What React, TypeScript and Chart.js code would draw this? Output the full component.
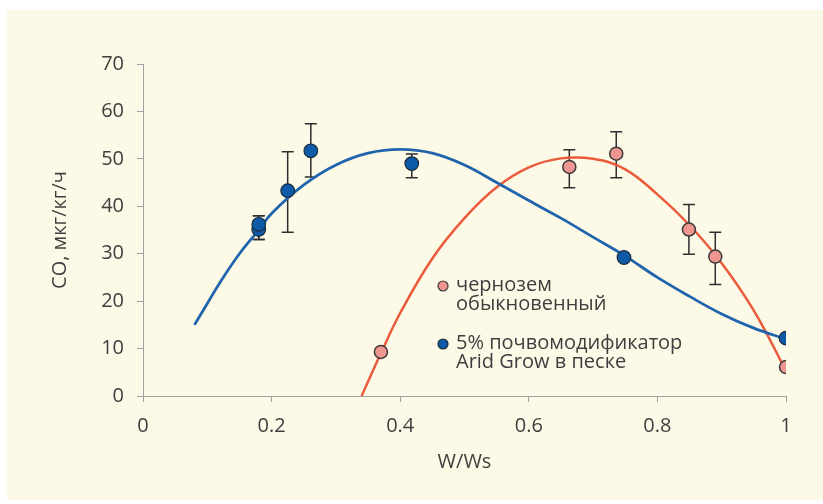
import React, { useEffect, useRef } from "react";
import { Chart, registerables } from "chart.js";

Chart.register(...registerables);

// Fitted curve for "5% почвомодификатор Arid Grow в песке"
const blueCurveX = [0.08, 0.1, 0.12, 0.15, 0.18, 0.2, 0.25, 0.3, 0.35, 0.4, 0.45, 0.5, 0.55, 0.6, 0.65, 0.7, 0.75, 0.8, 0.85, 0.9, 0.95, 1.0];
const blueCurveY = [15, 19.5, 24, 30, 35, 38.5, 44.5, 48.7, 51.2, 52, 51.2, 48.7, 45, 41.2, 37.5, 33.5, 29.5, 25, 21, 17.3, 14.3, 12];

// Fitted curve for "чернозем обыкновенный"
const redCurveX = [0.34, 0.37, 0.4, 0.45, 0.5, 0.55, 0.6, 0.65, 0.7, 0.75, 0.8, 0.85, 0.9, 0.95, 1.0];
const redCurveY = [0, 9, 17.5, 29, 37.5, 44, 48.2, 50.1, 50, 47.8, 42.5, 36, 28, 18, 5.3];

// Measured points with error bars
const bluePtsX = [0.18, 0.18, 0.225, 0.261, 0.418, 0.748, 1.0];
const bluePtsY = [35.1, 36.2, 43.3, 51.7, 49, 29.2, 12.2];
const bluePtsLo = [33, 33, 34.5, 46.2, 46, null, null];
const bluePtsHi = [38, 38, 51.5, 57.4, 51, null, null];

const redPtsX = [0.37, 0.663, 0.736, 0.849, 0.89, 1.0];
const redPtsY = [9.3, 48.3, 51.1, 35.1, 29.4, 6.1];
const redPtsLo = [null, 43.9, 46, 29.9, 23.5, null];
const redPtsHi = [null, 51.9, 55.7, 40.4, 34.5, null];

const xTicks = [0, 0.2, 0.4, 0.6, 0.8, 1];
const yTicks = [0, 10, 20, 30, 40, 50, 60, 70];

const legendLabels = [
  ["чернозем", "обыкновенный"],
  ["5% почвомодификатор", "Arid Grow в песке"],
];

const FONT = "'Open Sans', 'Noto Sans', sans-serif";
const TEXT = "#3e3e3e";
const AXIS = "#a0a0a0";
const BLUE_LINE = "#1f64ad";
const RED_LINE = "#ea5b3c";
const BLUE_PT = "#0d5aa6";
const RED_PT = "#f09690";

const errorBars = {
  id: "errorBars",
  beforeDatasetsDraw(chart: any) {
    const { ctx, scales } = chart;
    const xs = scales.x;
    const ys = scales.y;
    const groups = [
      [bluePtsX, bluePtsLo, bluePtsHi],
      [redPtsX, redPtsLo, redPtsHi],
    ];
    ctx.save();
    ctx.strokeStyle = "#2e2e2e";
    ctx.lineWidth = 1.5;
    for (const [xv, lo, hi] of groups as any) {
      for (let i = 0; i < xv.length; i++) {
        if (lo[i] == null || hi[i] == null) continue;
        const px = xs.getPixelForValue(xv[i]);
        const p1 = ys.getPixelForValue(lo[i]);
        const p2 = ys.getPixelForValue(hi[i]);
        ctx.beginPath();
        ctx.moveTo(px, p1);
        ctx.lineTo(px, p2);
        ctx.moveTo(px - 6, p1);
        ctx.lineTo(px + 6, p1);
        ctx.moveTo(px - 6, p2);
        ctx.lineTo(px + 6, p2);
        ctx.stroke();
      }
    }
    ctx.restore();
  },
};

const customLegend = {
  id: "customLegend",
  afterDraw(chart: any) {
    const { ctx } = chart;
    const items = [
      { fill: RED_PT, stroke: "#3a3a3a", y: 286, lines: legendLabels[0] },
      { fill: BLUE_PT, stroke: "#1b2b3d", y: 344, lines: legendLabels[1] },
    ];
    ctx.save();
    for (const it of items) {
      ctx.beginPath();
      ctx.arc(443, it.y, 5, 0, Math.PI * 2);
      ctx.fillStyle = it.fill;
      ctx.fill();
      ctx.lineWidth = 1.2;
      ctx.strokeStyle = it.stroke;
      ctx.stroke();
      ctx.fillStyle = TEXT;
      ctx.font = `20px ${FONT}`;
      ctx.textBaseline = "middle";
      ctx.textAlign = "left";
      it.lines.forEach((t: string, k: number) => {
        ctx.fillText(t, 456, it.y - 1 + k * 19);
      });
    }
    ctx.restore();
  },
};

export default function App() {
  const ref = useRef<HTMLCanvasElement | null>(null);

  useEffect(() => {
    if (!ref.current) return;
    const chart = new Chart(ref.current, {
      type: "scatter",
      data: {
        datasets: [
          {
            label: "5% почвомодификатор Arid Grow в песке",
            data: bluePtsX.map((x, i) => ({ x, y: bluePtsY[i] })),
            backgroundColor: BLUE_PT,
            borderColor: "#1b2b3d",
            borderWidth: 1.2,
            pointRadius: 6.8,
            showLine: false,
            order: 1,
          },
          {
            label: "чернозем обыкновенный",
            data: redPtsX.map((x, i) => ({ x, y: redPtsY[i] })),
            backgroundColor: RED_PT,
            borderColor: "#3a3a3a",
            borderWidth: 1.5,
            pointRadius: 6.5,
            showLine: false,
            order: 2,
          },
          {
            type: "line",
            label: "blue fit",
            data: blueCurveX.map((x, i) => ({ x, y: blueCurveY[i] })),
            borderColor: BLUE_LINE,
            borderWidth: 2.8,
            pointRadius: 0,
            tension: 0.4,
            fill: false,
            order: 3,
          } as any,
          {
            type: "line",
            label: "red fit",
            data: redCurveX.map((x, i) => ({ x, y: redCurveY[i] })),
            borderColor: RED_LINE,
            borderWidth: 2.5,
            pointRadius: 0,
            tension: 0.4,
            fill: false,
            order: 4,
          } as any,
        ],
      },
      options: {
        responsive: false,
        animation: false,
        layout: { padding: { top: 64, right: 37, bottom: 0, left: 0 } },
        plugins: {
          legend: { display: false },
          tooltip: { enabled: false },
        },
        scales: {
          x: {
            type: "linear",
            min: 0,
            max: 1,
            afterFit: (s: any) => {
              s.height = 108;
            },
            afterBuildTicks: (s: any) => {
              s.ticks = xTicks.map((v) => ({ value: v }));
            },
            ticks: {
              color: TEXT,
              font: { family: FONT, size: 20 },
              padding: 12,
              maxRotation: 0,
              callback: (v: any) => String(v),
            },
            grid: { drawOnChartArea: false, drawTicks: true, tickLength: 6, color: AXIS },
            border: { display: true, color: AXIS, width: 1 },
            title: {
              display: true,
              text: "W/Ws",
              color: TEXT,
              font: { family: FONT, size: 20 },
              padding: { top: 0, bottom: 30 },
            },
          },
          y: {
            type: "linear",
            min: 0,
            max: 70,
            afterFit: (s: any) => {
              s.width = 143;
            },
            afterBuildTicks: (s: any) => {
              s.ticks = yTicks.map((v) => ({ value: v }));
            },
            ticks: {
              color: TEXT,
              font: { family: FONT, size: 20 },
              padding: 13,
              callback: (v: any) => String(v),
            },
            grid: { drawOnChartArea: false, drawTicks: true, tickLength: 6, color: AXIS },
            border: { display: true, color: AXIS, width: 1 },
            title: {
              display: true,
              text: "CO, мкг/кг/ч",
              color: TEXT,
              font: { family: FONT, size: 20 },
              padding: { top: 48, bottom: 0 },
            },
          },
        },
      },
      plugins: [errorBars, customLegend],
    });
    return () => chart.destroy();
  }, []);

  return (
    <div style={{ position: "fixed", left: 0, top: 0, width: 823, height: 504, background: "#ffffff" }}>
      <div style={{ position: "absolute", left: 7, top: 10, width: 816, height: 490, background: "#fdf9e7" }} />
      <canvas ref={ref} width={823} height={504} style={{ position: "absolute", left: 0, top: 0, width: 823, height: 504 }} />
    </div>
  );
}
